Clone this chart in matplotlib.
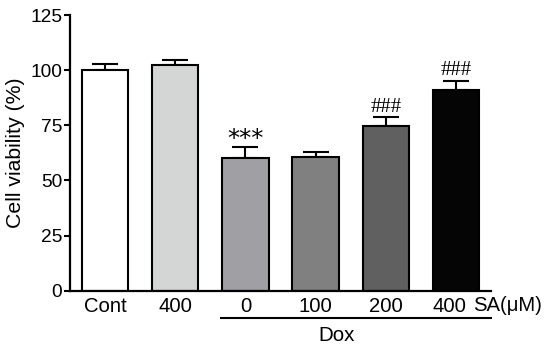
import matplotlib
matplotlib.use("Agg")
import matplotlib.pyplot as plt
from matplotlib.transforms import ScaledTranslation

categories = ["Cont", "400", "0", "100", "200", "400"]
values = [100.2, 102.5, 60.3, 60.8, 74.6, 91.1]
errors = [2.8, 2.2, 4.8, 2.3, 4.0, 3.9]
colors = ["#ffffff", "#d4d6d5", "#a0a0a4", "#808080", "#606060", "#050505"]
annotations = ["", "", "***", "", "###", "###"]
yticks = [0, 25, 50, 75, 100, 125]

plt.rcParams['font.family'] = ['Liberation Sans', 'DejaVu Sans']

fig = plt.figure(figsize=(5.5, 3.48), dpi=100)
ax = fig.add_axes([70/550, (348-290.7)/348, (491-70)/550, (290.7-15)/348])

x = list(range(len(categories)))
ax.bar(x, values, width=0.66, color=colors, edgecolor="black", linewidth=1.5, zorder=2)
ax.errorbar(x, values, yerr=[[0]*len(errors), errors], fmt="none", ecolor="black",
            elinewidth=1.5, capsize=9.5, capthick=1.5, zorder=1)

for xi, v, e, a in zip(x, values, errors, annotations):
    if a == "***":
        ax.text(xi, v + e + 0.6, a, ha="center", va="baseline", fontsize=17.5,
                family=["DejaVu Sans"])
    elif a:
        ax.text(xi, v + e + 2.6, a, ha="center", va="baseline", fontsize=15,
                family=["Liberation Serif"])

ax.set_xlim(-0.5, 5.5)
ax.set_ylim(0, 125)
ax.set_yticks(yticks)
ax.set_yticklabels([str(t) for t in yticks], fontsize=13.8)
ax.set_xticks(x)
ax.set_xticklabels(categories, fontsize=14.6)
ax.tick_params(axis="x", length=0, pad=4.5)
ax.tick_params(axis="y", length=4, width=1.5, direction="out", pad=1.5)
ax.spines["top"].set_visible(False)
ax.spines["right"].set_visible(False)
ax.spines["left"].set_linewidth(1.6)
ax.spines["bottom"].set_linewidth(1.6)
ax.set_ylabel("Cell viability (%)", fontsize=15.3, labelpad=4)

# shift last tick label slightly left, as in the reference
last = ax.get_xticklabels()[-1]
last.set_transform(last.get_transform() + ScaledTranslation(-6.5/100, 0, fig.dpi_scale_trans))

# group annotations
ax.text(5.24, -9.2, "SA(μM)", fontsize=14.6, ha="left", va="baseline", clip_on=False)
ax.plot([1.64, 5.51], [-12.4, -12.4], color="black", linewidth=1.5, clip_on=False,
        solid_capstyle="butt")
ax.text(3.3, -22.9, "Dox", fontsize=14.8, ha="center", va="baseline", clip_on=False)

fig.savefig("out.png", dpi=100)
